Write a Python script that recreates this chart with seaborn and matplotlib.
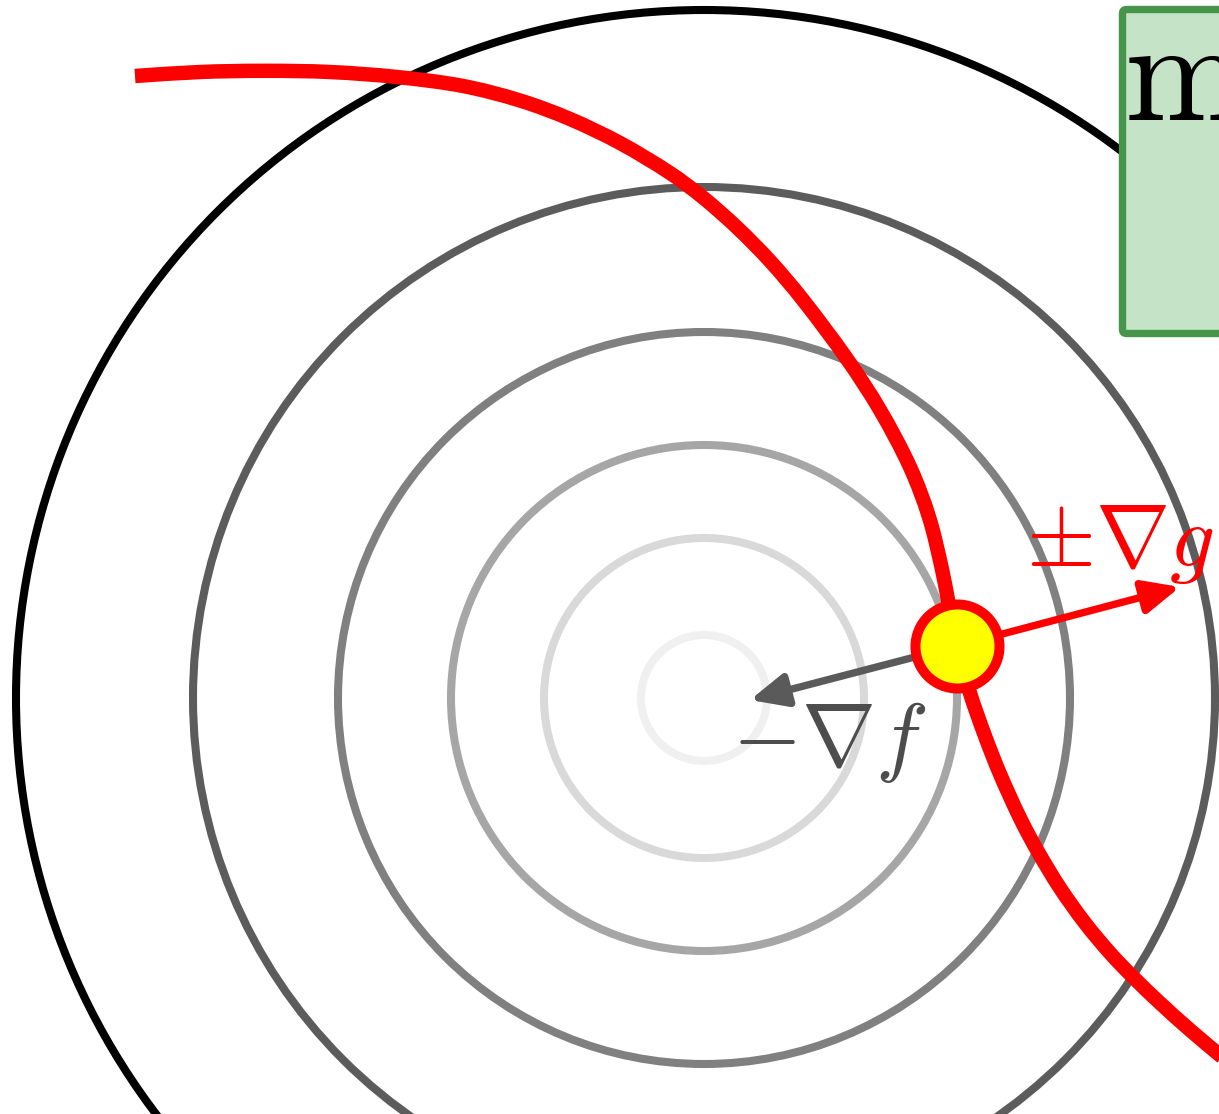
import matplotlib
matplotlib.use("Agg")
import matplotlib.pyplot as plt
from matplotlib.patches import Circle, FancyBboxPatch, PathPatch
from matplotlib.path import Path
import seaborn as sns
import numpy as np

# ---- data (in pixel-like diagram units, y downward) ----
level_center = (704, 698)
level_radii = [63, 160, 253, 366, 511, 688]
level_colors = ["#f0f0f0", "#d9d9d9", "#a6a6a6", "#808080", "#5c5c5c", "#000000"]

curve_x = [135, 200, 265, 330, 397, 463, 520, 570, 620, 670, 703, 737, 770, 803,
           847, 880, 910, 929, 941.5, 948, 957, 970, 985, 1000, 1020, 1037, 1060,
           1085, 1110, 1132, 1160, 1190, 1222]
curve_y = [76, 72, 70.8, 72, 77, 86, 100.5, 119, 143, 173, 197.5, 227.5, 261, 300,
           359, 410, 467, 517, 567, 600, 646, 693, 736, 774, 818, 850, 888,
           923, 953, 976, 1003, 1030, 1057]

point_x = [957]
point_y = [646]

grad_f_tip = (750, 700)
grad_g_tip = (1180, 587)

label_f = r"$-\nabla f$"
label_g = r"$\pm\nabla g$"
box_text = r"$\mathrm{m}$"

# ---- figure ----
sns.set_theme(style="white")
plt.rcParams["mathtext.fontset"] = "cm"
plt.rcParams["font.family"] = ["DejaVu Sans"]

fig = plt.figure(figsize=(12.19, 11.14), dpi=100)
ax = fig.add_axes([0, 0, 1, 1])

# level circles of f
for r, c in zip(level_radii, level_colors):
    ax.add_patch(Circle(level_center, r, fill=False, edgecolor=c, linewidth=5.8, zorder=1))

# constraint curve g = 0 : smooth path through the read points
P = np.column_stack([curve_x, curve_y]).astype(float)
n = len(P)
T = np.zeros_like(P)
for i in range(n):
    a = P[max(i - 1, 0)]
    b = P[min(i + 1, n - 1)]
    d = b - a
    T[i] = d / np.hypot(*d)
verts = [tuple(P[0])]
codes = [Path.MOVETO]
for i in range(n - 1):
    L = np.hypot(*(P[i + 1] - P[i])) / 3.0
    verts += [tuple(P[i] + T[i] * L), tuple(P[i + 1] - T[i + 1] * L), tuple(P[i + 1])]
    codes += [Path.CURVE4] * 3
curve_patch = PathPatch(Path(verts, codes), fill=False, edgecolor="red",
                        linewidth=10.4, capstyle="butt", joinstyle="round", zorder=2)
ax.add_patch(curve_patch)

# gradient arrows
ax.annotate("", xy=grad_f_tip, xytext=(point_x[0], point_y[0]),
            arrowprops=dict(arrowstyle="-|>,head_length=22,head_width=10", mutation_scale=1,
                            color="#5a5a5a", lw=5.3, shrinkA=0, shrinkB=0), zorder=3)
ax.annotate("", xy=grad_g_tip, xytext=(point_x[0], point_y[0]),
            arrowprops=dict(arrowstyle="-|>,head_length=22,head_width=10", mutation_scale=1,
                            color="red", lw=5.3, shrinkA=0, shrinkB=0), zorder=3)

# the optimum point
sns.scatterplot(x=point_x, y=point_y, s=3660, color="#ffff00", edgecolor="red",
                linewidth=7.2, ax=ax, zorder=4, legend=False)

# labels
ax.text(829, 765, label_f, fontsize=64, color="#4d4d4d", ha="center", va="baseline", zorder=5)
ax.text(1120, 566, label_g, fontsize=64, color="red", ha="center", va="baseline", zorder=5)

# green box (cropped at the right edge, as in the reference)
ax.add_patch(FancyBboxPatch((1122.5, 9.5), 400, 324, boxstyle="round,pad=0,rounding_size=4",
                            facecolor="#c5e3c7", edgecolor="#46954a", linewidth=5.3, zorder=6))
ax.text(1124, 120, box_text, fontsize=105, color="black", ha="left", va="baseline",
        zorder=7, clip_on=True)

ax.set_xlim(0, 1219)
ax.set_ylim(1114, 0)
ax.set_xlabel("")
ax.set_ylabel("")
ax.set_axis_off()

fig.savefig("out.png", dpi=100)
